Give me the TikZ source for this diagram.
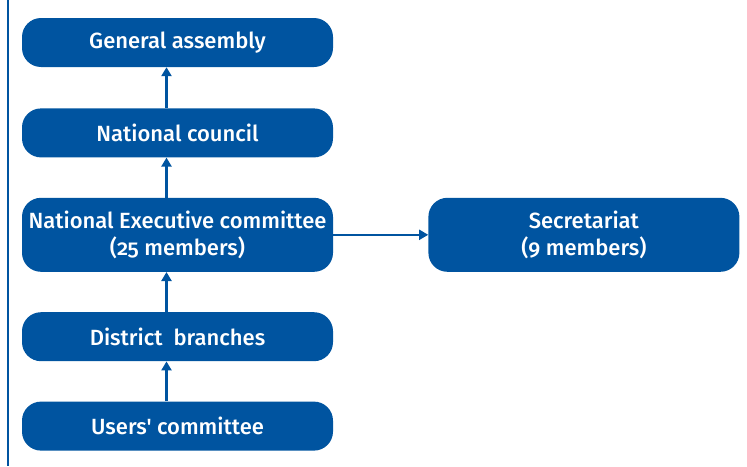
\documentclass[tikz,border=0pt]{standalone}
\usepackage{fontspec}
\setmainfont{Fira Sans}[Ligatures=TeXOff, Numbers=OldStyle, BoldFont={Fira Sans Medium}, BoldFeatures={Numbers=OldStyle}]
\usetikzlibrary{positioning, arrows.meta}
\definecolor{orgblue}{HTML}{0054A0}

\begin{document}
\begin{tikzpicture}[
  x=1pt, y=-1pt,
  node distance=40pt and 95pt,
  unit/.style={rectangle, rounded corners=19pt, fill=orgblue, text=white, minimum width=311pt, minimum height=49pt, inner sep=1pt, align=center, font=\fontsize{22}{27.5}\selectfont\bfseries},
  bigunit/.style={unit, minimum height=74pt},
  arrow/.style={draw=orgblue, line width=2.6pt, -{Triangle[length=9pt, width=10pt]}}
]
  \useasboundingbox (0,0) rectangle (747,466);
  \draw[orgblue, line width=1.2pt] (8,0) -- (8,466);

  % Hierarchy
  \node[unit] (ga) at (177.5,42.5) {General assembly};
  \node[unit, below=41pt of ga] (nc) {National council};
  \node[bigunit, below=of nc] (nec) {National Executive committee\\(25 members)};
  \node[unit, below=of nec] (db) {District\ \ branches};
  \node[unit, below=of db] (uc) {Users' committee};

  % Secretariat
  \node[bigunit, right=of nec] (sec) {Secretariat\\(9 members)};

  \draw[arrow] ([xshift=-11pt]uc.north) -- ([xshift=-11pt]db.south);
  \draw[arrow] ([xshift=-11pt]db.north) -- ([xshift=-11pt]nec.south);
  \draw[arrow] ([xshift=-11pt]nec.north) -- ([xshift=-11pt]nc.south);
  \draw[arrow] ([xshift=-11pt]nc.north) -- ([xshift=-11pt]ga.south);
  \draw[arrow, line width=2pt] (nec) -- (sec);
\end{tikzpicture}
\end{document}
